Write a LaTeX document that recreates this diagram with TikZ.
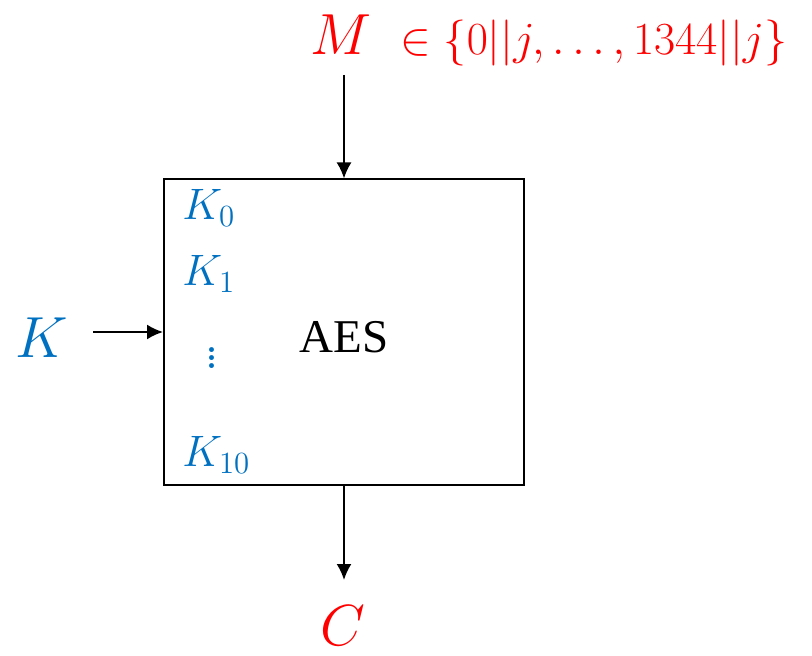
\documentclass[tikz,border=0pt]{standalone}
\usepackage{fix-cm}
\usepackage{fontspec}
\newfontfamily\aesfont{Liberation Serif}
\usepackage{xcolor}
\usepackage{tikz}
\usetikzlibrary{arrows.meta,positioning}

\definecolor{keyblue}{HTML}{0070C0}
\definecolor{msgred}{HTML}{FF0000}

\begin{document}
\begin{tikzpicture}[x=0.5pt, y=-0.5pt,
cipher/.style={draw, line width=1pt, minimum width=180pt, minimum height=152.5pt, inner sep=0pt},
arrow/.style={-{Latex[length=8pt, width=7.5pt]}, line width=1pt},
rkey/.style={text=keyblue, anchor=west, inner sep=0pt, font=\fontsize{22}{24}\selectfont},
big/.style={inner sep=0pt, font=\fontsize{29}{31}\selectfont}
]
\useasboundingbox (0,0) rectangle (812,656);
\node[cipher] (aes) at (344,332) {};
\node[font=\aesfont\fontsize{23.5}{25}\selectfont] (name) at (344,337) {AES};
\node[big, text=msgred] (msg) at (341,35) {$M$};
\node[text=msgred, anchor=base west, inner sep=0pt, font=\fontsize{23}{25}\selectfont] (set) at ([xshift=14pt]msg.base east) {$\in\{0||j,\ldots,1344||j\}$};
\node[big, text=keyblue] (key) at (42,338) {$K$};
\node[big, text=msgred] (ct) at (343,626) {$C$};
% round keys
\node[rkey] (k0) at (182,208) {$K_0$};
\node[rkey] (k1) at (182,274) {$K_1$};
\node[rkey, font=\fontsize{30}{32}\selectfont] (kdots) at (204,352) {$\vdots$};
\node[rkey] (k10) at (182,455) {$K_{10}$};
\coordinate (min) at (344,75);
\coordinate (kin) at (93,332);
\coordinate (cout) at (344,580);
\draw[arrow] (min) -- (aes.north);
\draw[arrow] (kin) -- (aes.west);
\draw[arrow] (aes.south) -- (cout);
\end{tikzpicture}
\end{document}
